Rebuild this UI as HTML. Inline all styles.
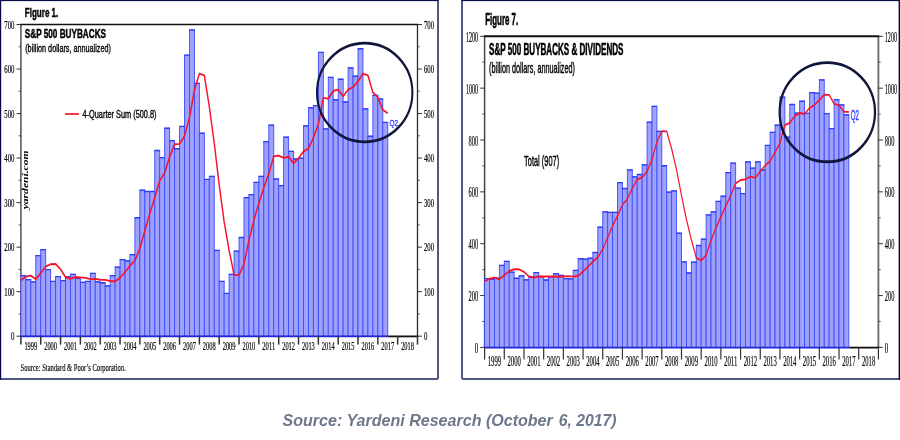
<!DOCTYPE html>
<html><head><meta charset="utf-8"><title>S&amp;P 500 Buybacks</title>
<style>html,body{margin:0;padding:0;background:#fff}svg{display:block}</style></head>
<body>
<svg width="900" height="440" viewBox="0 0 900 440">
<rect width="900" height="440" fill="#fff"/>
<path d="M438 0V377.5Q438 379 436.5 379H0" fill="none" stroke="#4f5783" stroke-width="2"/>
<rect x="0" y="0" width="438.8" height="1.1" fill="#070b48"/>
<rect x="0" y="0" width="1.2" height="379.9" fill="#070b48"/>
<path d="M462 0V377.5Q462 379 463.5 379H900" fill="none" stroke="#4f5783" stroke-width="2"/>
<rect x="461.2" y="0" width="438.8" height="1.1" fill="#070b48"/>
<rect x="898.6" y="0" width="1.4" height="379.9" fill="#070b48"/>
<path d="M20.90 336.20V24.50" fill="none" stroke="#5a5a5a" stroke-width="1.6"/>
<path d="M417.50 24.50V336.20" fill="none" stroke="#2a2a2a" stroke-width="1.3"/>
<path d="M20.10 24.50H418.15" fill="none" stroke="#111" stroke-width="1.4"/>
<rect x="20.90" y="275.64" width="4.96" height="60.56" fill="#9fa1fb" stroke="#3d4dfb" stroke-width="0.9"/>
<rect x="25.86" y="279.65" width="4.96" height="56.55" fill="#9fa1fb" stroke="#3d4dfb" stroke-width="0.9"/>
<rect x="30.81" y="281.88" width="4.96" height="54.32" fill="#9fa1fb" stroke="#3d4dfb" stroke-width="0.9"/>
<rect x="35.77" y="255.60" width="4.96" height="80.60" fill="#9fa1fb" stroke="#3d4dfb" stroke-width="0.9"/>
<rect x="40.73" y="249.59" width="4.96" height="86.61" fill="#9fa1fb" stroke="#3d4dfb" stroke-width="0.9"/>
<rect x="45.69" y="269.63" width="4.96" height="66.57" fill="#9fa1fb" stroke="#3d4dfb" stroke-width="0.9"/>
<rect x="50.65" y="281.43" width="4.96" height="54.77" fill="#9fa1fb" stroke="#3d4dfb" stroke-width="0.9"/>
<rect x="55.60" y="276.53" width="4.96" height="59.67" fill="#9fa1fb" stroke="#3d4dfb" stroke-width="0.9"/>
<rect x="60.56" y="280.54" width="4.96" height="55.66" fill="#9fa1fb" stroke="#3d4dfb" stroke-width="0.9"/>
<rect x="65.52" y="276.53" width="4.96" height="59.67" fill="#9fa1fb" stroke="#3d4dfb" stroke-width="0.9"/>
<rect x="70.47" y="274.31" width="4.96" height="61.89" fill="#9fa1fb" stroke="#3d4dfb" stroke-width="0.9"/>
<rect x="75.43" y="278.31" width="4.96" height="57.89" fill="#9fa1fb" stroke="#3d4dfb" stroke-width="0.9"/>
<rect x="80.39" y="282.32" width="4.96" height="53.88" fill="#9fa1fb" stroke="#3d4dfb" stroke-width="0.9"/>
<rect x="85.35" y="281.43" width="4.96" height="54.77" fill="#9fa1fb" stroke="#3d4dfb" stroke-width="0.9"/>
<rect x="90.31" y="273.41" width="4.96" height="62.79" fill="#9fa1fb" stroke="#3d4dfb" stroke-width="0.9"/>
<rect x="95.26" y="281.88" width="4.96" height="54.32" fill="#9fa1fb" stroke="#3d4dfb" stroke-width="0.9"/>
<rect x="100.22" y="282.77" width="4.96" height="53.43" fill="#9fa1fb" stroke="#3d4dfb" stroke-width="0.9"/>
<rect x="105.18" y="285.88" width="4.96" height="50.32" fill="#9fa1fb" stroke="#3d4dfb" stroke-width="0.9"/>
<rect x="110.14" y="275.64" width="4.96" height="60.56" fill="#9fa1fb" stroke="#3d4dfb" stroke-width="0.9"/>
<rect x="115.09" y="267.18" width="4.96" height="69.02" fill="#9fa1fb" stroke="#3d4dfb" stroke-width="0.9"/>
<rect x="120.05" y="259.61" width="4.96" height="76.59" fill="#9fa1fb" stroke="#3d4dfb" stroke-width="0.9"/>
<rect x="125.01" y="260.95" width="4.96" height="75.25" fill="#9fa1fb" stroke="#3d4dfb" stroke-width="0.9"/>
<rect x="129.97" y="254.71" width="4.96" height="81.49" fill="#9fa1fb" stroke="#3d4dfb" stroke-width="0.9"/>
<rect x="134.92" y="217.75" width="4.96" height="118.45" fill="#9fa1fb" stroke="#3d4dfb" stroke-width="0.9"/>
<rect x="139.88" y="190.15" width="4.96" height="146.05" fill="#9fa1fb" stroke="#3d4dfb" stroke-width="0.9"/>
<rect x="144.84" y="191.48" width="4.96" height="144.72" fill="#9fa1fb" stroke="#3d4dfb" stroke-width="0.9"/>
<rect x="149.80" y="191.48" width="4.96" height="144.72" fill="#9fa1fb" stroke="#3d4dfb" stroke-width="0.9"/>
<rect x="154.75" y="150.52" width="4.96" height="185.68" fill="#9fa1fb" stroke="#3d4dfb" stroke-width="0.9"/>
<rect x="159.71" y="157.64" width="4.96" height="178.56" fill="#9fa1fb" stroke="#3d4dfb" stroke-width="0.9"/>
<rect x="164.67" y="128.25" width="4.96" height="207.95" fill="#9fa1fb" stroke="#3d4dfb" stroke-width="0.9"/>
<rect x="169.63" y="140.72" width="4.96" height="195.48" fill="#9fa1fb" stroke="#3d4dfb" stroke-width="0.9"/>
<rect x="174.58" y="148.73" width="4.96" height="187.47" fill="#9fa1fb" stroke="#3d4dfb" stroke-width="0.9"/>
<rect x="179.54" y="126.47" width="4.96" height="209.73" fill="#9fa1fb" stroke="#3d4dfb" stroke-width="0.9"/>
<rect x="184.50" y="55.22" width="4.96" height="280.98" fill="#9fa1fb" stroke="#3d4dfb" stroke-width="0.9"/>
<rect x="189.46" y="29.84" width="4.96" height="306.36" fill="#9fa1fb" stroke="#3d4dfb" stroke-width="0.9"/>
<rect x="194.41" y="83.28" width="4.96" height="252.92" fill="#9fa1fb" stroke="#3d4dfb" stroke-width="0.9"/>
<rect x="199.37" y="133.15" width="4.96" height="203.05" fill="#9fa1fb" stroke="#3d4dfb" stroke-width="0.9"/>
<rect x="204.33" y="179.46" width="4.96" height="156.74" fill="#9fa1fb" stroke="#3d4dfb" stroke-width="0.9"/>
<rect x="209.29" y="176.34" width="4.96" height="159.86" fill="#9fa1fb" stroke="#3d4dfb" stroke-width="0.9"/>
<rect x="214.24" y="250.35" width="4.96" height="85.85" fill="#9fa1fb" stroke="#3d4dfb" stroke-width="0.9"/>
<rect x="219.20" y="281.43" width="4.96" height="54.77" fill="#9fa1fb" stroke="#3d4dfb" stroke-width="0.9"/>
<rect x="224.16" y="293.45" width="4.96" height="42.75" fill="#9fa1fb" stroke="#3d4dfb" stroke-width="0.9"/>
<rect x="229.12" y="274.31" width="4.96" height="61.89" fill="#9fa1fb" stroke="#3d4dfb" stroke-width="0.9"/>
<rect x="234.07" y="251.15" width="4.96" height="85.05" fill="#9fa1fb" stroke="#3d4dfb" stroke-width="0.9"/>
<rect x="239.03" y="237.52" width="4.96" height="98.68" fill="#9fa1fb" stroke="#3d4dfb" stroke-width="0.9"/>
<rect x="243.99" y="197.72" width="4.96" height="138.48" fill="#9fa1fb" stroke="#3d4dfb" stroke-width="0.9"/>
<rect x="248.95" y="194.60" width="4.96" height="141.60" fill="#9fa1fb" stroke="#3d4dfb" stroke-width="0.9"/>
<rect x="253.90" y="182.31" width="4.96" height="153.89" fill="#9fa1fb" stroke="#3d4dfb" stroke-width="0.9"/>
<rect x="258.86" y="176.34" width="4.96" height="159.86" fill="#9fa1fb" stroke="#3d4dfb" stroke-width="0.9"/>
<rect x="263.82" y="141.61" width="4.96" height="194.59" fill="#9fa1fb" stroke="#3d4dfb" stroke-width="0.9"/>
<rect x="268.78" y="125.13" width="4.96" height="211.07" fill="#9fa1fb" stroke="#3d4dfb" stroke-width="0.9"/>
<rect x="273.73" y="179.01" width="4.96" height="157.19" fill="#9fa1fb" stroke="#3d4dfb" stroke-width="0.9"/>
<rect x="278.69" y="185.69" width="4.96" height="150.51" fill="#9fa1fb" stroke="#3d4dfb" stroke-width="0.9"/>
<rect x="283.65" y="137.16" width="4.96" height="199.04" fill="#9fa1fb" stroke="#3d4dfb" stroke-width="0.9"/>
<rect x="288.61" y="151.41" width="4.96" height="184.79" fill="#9fa1fb" stroke="#3d4dfb" stroke-width="0.9"/>
<rect x="293.56" y="158.98" width="4.96" height="177.22" fill="#9fa1fb" stroke="#3d4dfb" stroke-width="0.9"/>
<rect x="298.52" y="158.09" width="4.96" height="178.11" fill="#9fa1fb" stroke="#3d4dfb" stroke-width="0.9"/>
<rect x="303.48" y="125.80" width="4.96" height="210.40" fill="#9fa1fb" stroke="#3d4dfb" stroke-width="0.9"/>
<rect x="308.44" y="107.77" width="4.96" height="228.43" fill="#9fa1fb" stroke="#3d4dfb" stroke-width="0.9"/>
<rect x="313.39" y="105.54" width="4.96" height="230.66" fill="#9fa1fb" stroke="#3d4dfb" stroke-width="0.9"/>
<rect x="318.35" y="52.37" width="4.96" height="283.83" fill="#9fa1fb" stroke="#3d4dfb" stroke-width="0.9"/>
<rect x="323.31" y="128.92" width="4.96" height="207.28" fill="#9fa1fb" stroke="#3d4dfb" stroke-width="0.9"/>
<rect x="328.26" y="77.31" width="4.96" height="258.89" fill="#9fa1fb" stroke="#3d4dfb" stroke-width="0.9"/>
<rect x="333.22" y="99.75" width="4.96" height="236.45" fill="#9fa1fb" stroke="#3d4dfb" stroke-width="0.9"/>
<rect x="338.18" y="79.27" width="4.96" height="256.93" fill="#9fa1fb" stroke="#3d4dfb" stroke-width="0.9"/>
<rect x="343.14" y="101.98" width="4.96" height="234.22" fill="#9fa1fb" stroke="#3d4dfb" stroke-width="0.9"/>
<rect x="348.10" y="67.87" width="4.96" height="268.33" fill="#9fa1fb" stroke="#3d4dfb" stroke-width="0.9"/>
<rect x="353.05" y="76.15" width="4.96" height="260.05" fill="#9fa1fb" stroke="#3d4dfb" stroke-width="0.9"/>
<rect x="358.01" y="48.77" width="4.96" height="287.43" fill="#9fa1fb" stroke="#3d4dfb" stroke-width="0.9"/>
<rect x="362.97" y="108.88" width="4.96" height="227.32" fill="#9fa1fb" stroke="#3d4dfb" stroke-width="0.9"/>
<rect x="367.93" y="136.27" width="4.96" height="199.93" fill="#9fa1fb" stroke="#3d4dfb" stroke-width="0.9"/>
<rect x="372.88" y="95.30" width="4.96" height="240.90" fill="#9fa1fb" stroke="#3d4dfb" stroke-width="0.9"/>
<rect x="377.84" y="98.86" width="4.96" height="237.34" fill="#9fa1fb" stroke="#3d4dfb" stroke-width="0.9"/>
<rect x="382.80" y="122.46" width="4.96" height="213.74" fill="#9fa1fb" stroke="#3d4dfb" stroke-width="0.9"/>
<path d="M20.60 275.64H26.16M25.56 279.65H31.11M30.51 281.88H36.07M35.47 255.60H41.03M40.43 249.59H45.99M45.39 269.63H50.95M50.35 281.43H55.90M55.30 276.53H60.86M60.26 280.54H65.82M65.22 276.53H70.78M70.17 274.31H75.73M75.13 278.31H80.69M80.09 282.32H85.65M85.05 281.43H90.60M90.01 273.41H95.56M94.96 281.88H100.52M99.92 282.77H105.48M104.88 285.88H110.44M109.84 275.64H115.39M114.79 267.18H120.35M119.75 259.61H125.31M124.71 260.95H130.27M129.66 254.71H135.22M134.62 217.75H140.18M139.58 190.15H145.14M144.54 191.48H150.10M149.50 191.48H155.05M154.45 150.52H160.01M159.41 157.64H164.97M164.37 128.25H169.93M169.33 140.72H174.88M174.28 148.73H179.84M179.24 126.47H184.80M184.20 55.22H189.76M189.16 29.84H194.71M194.11 83.28H199.67M199.07 133.15H204.63M204.03 179.46H209.59M208.99 176.34H214.54M213.94 250.35H219.50M218.90 281.43H224.46M223.86 293.45H229.42M228.82 274.31H234.37M233.77 251.15H239.33M238.73 237.52H244.29M243.69 197.72H249.25M248.65 194.60H254.20M253.60 182.31H259.16M258.56 176.34H264.12M263.52 141.61H269.07M268.48 125.13H274.03M273.43 179.01H278.99M278.39 185.69H283.95M283.35 137.16H288.90M288.31 151.41H293.86M293.26 158.98H298.82M298.22 158.09H303.78M303.18 125.80H308.74M308.13 107.77H313.69M313.09 105.54H318.65M318.05 52.37H323.61M323.01 128.92H328.56M327.96 77.31H333.52M332.92 99.75H338.48M337.88 79.27H343.44M342.84 101.98H348.39M347.80 67.87H353.35M352.75 76.15H358.31M357.71 48.77H363.27M362.67 108.88H368.23M367.62 136.27H373.18M372.58 95.30H378.14M377.54 98.86H383.10M382.50 122.46H388.06" stroke="#2f3ff6" stroke-width="1.3" fill="none"/>
<path d="M20.40 336.40H388.15" stroke="#1f28d8" stroke-width="1.8"/>
<path d="M388.15 336.40H418.20" stroke="#111" stroke-width="1.8"/>
<g transform="translate(20.90,0) scale(0.78,1)"><path d="M0.00 280.32 L6.36 276.62 L12.71 275.64 L19.07 279.20 L25.42 273.19 L31.78 266.68 L38.13 264.18 L44.49 264.06 L50.85 269.30 L57.20 277.03 L63.56 278.76 L69.91 276.98 L76.27 277.42 L82.62 277.87 L88.98 279.09 L95.34 278.87 L101.69 279.76 L108.05 279.87 L114.40 280.98 L120.76 281.54 L127.12 277.87 L133.47 272.08 L139.83 265.84 L146.18 260.61 L152.54 248.26 L158.89 230.89 L165.25 213.52 L171.61 197.72 L177.96 180.91 L184.32 172.78 L190.67 156.97 L197.03 144.28 L203.38 143.84 L209.74 136.04 L216.10 117.79 L222.45 90.07 L228.81 73.70 L235.16 75.37 L241.52 106.43 L247.88 143.06 L254.23 184.83 L260.59 221.90 L266.94 250.39 L273.30 274.88 L279.65 275.08 L286.01 264.11 L292.37 240.17 L298.72 220.25 L305.08 203.04 L311.43 187.74 L317.79 173.72 L324.14 156.35 L330.50 155.53 L336.86 157.86 L343.21 156.75 L349.57 163.32 L355.92 158.31 L362.28 151.41 L368.63 148.57 L374.99 137.66 L381.35 124.30 L387.70 97.87 L394.06 98.65 L400.41 91.04 L406.77 89.59 L413.12 96.31 L419.48 89.58 L425.84 87.22 L432.19 81.32 L438.55 73.69 L444.90 75.42 L451.26 92.52 L457.62 97.30 L463.97 109.83 L470.33 113.22" fill="none" stroke="#f5142c" stroke-width="1.9" stroke-linejoin="round"/></g>
<path d="M16.50 336.20H20.90M417.50 336.20H421.90" stroke="#333" stroke-width="1"/>
<path d="M18.60 313.94H20.90M417.50 313.94H419.80" stroke="#444" stroke-width="0.9"/>
<path d="M16.50 291.67H20.90M417.50 291.67H421.90" stroke="#333" stroke-width="1"/>
<path d="M18.60 269.41H20.90M417.50 269.41H419.80" stroke="#444" stroke-width="0.9"/>
<path d="M16.50 247.14H20.90M417.50 247.14H421.90" stroke="#333" stroke-width="1"/>
<path d="M18.60 224.88H20.90M417.50 224.88H419.80" stroke="#444" stroke-width="0.9"/>
<path d="M16.50 202.61H20.90M417.50 202.61H421.90" stroke="#333" stroke-width="1"/>
<path d="M18.60 180.35H20.90M417.50 180.35H419.80" stroke="#444" stroke-width="0.9"/>
<path d="M16.50 158.09H20.90M417.50 158.09H421.90" stroke="#333" stroke-width="1"/>
<path d="M18.60 135.82H20.90M417.50 135.82H419.80" stroke="#444" stroke-width="0.9"/>
<path d="M16.50 113.56H20.90M417.50 113.56H421.90" stroke="#333" stroke-width="1"/>
<path d="M18.60 91.29H20.90M417.50 91.29H419.80" stroke="#444" stroke-width="0.9"/>
<path d="M16.50 69.03H20.90M417.50 69.03H421.90" stroke="#333" stroke-width="1"/>
<path d="M18.60 46.76H20.90M417.50 46.76H419.80" stroke="#444" stroke-width="0.9"/>
<path d="M16.50 24.50H20.90M417.50 24.50H421.90" stroke="#333" stroke-width="1"/>
<path d="M20.90 336.20V344.60" stroke="#333" stroke-width="1.5"/>
<path d="M40.73 336.20V344.60" stroke="#333" stroke-width="1.5"/>
<path d="M60.56 336.20V344.60" stroke="#333" stroke-width="1.5"/>
<path d="M80.39 336.20V344.60" stroke="#333" stroke-width="1.5"/>
<path d="M100.22 336.20V344.60" stroke="#333" stroke-width="1.5"/>
<path d="M120.05 336.20V344.60" stroke="#333" stroke-width="1.5"/>
<path d="M139.88 336.20V344.60" stroke="#333" stroke-width="1.5"/>
<path d="M159.71 336.20V344.60" stroke="#333" stroke-width="1.5"/>
<path d="M179.54 336.20V344.60" stroke="#333" stroke-width="1.5"/>
<path d="M199.37 336.20V344.60" stroke="#333" stroke-width="1.5"/>
<path d="M219.20 336.20V344.60" stroke="#333" stroke-width="1.5"/>
<path d="M239.03 336.20V344.60" stroke="#333" stroke-width="1.5"/>
<path d="M258.86 336.20V344.60" stroke="#333" stroke-width="1.5"/>
<path d="M278.69 336.20V344.60" stroke="#333" stroke-width="1.5"/>
<path d="M298.52 336.20V344.60" stroke="#333" stroke-width="1.5"/>
<path d="M318.35 336.20V344.60" stroke="#333" stroke-width="1.5"/>
<path d="M338.18 336.20V344.60" stroke="#333" stroke-width="1.5"/>
<path d="M358.01 336.20V344.60" stroke="#333" stroke-width="1.5"/>
<path d="M377.84 336.20V344.60" stroke="#333" stroke-width="1.5"/>
<path d="M397.67 336.20V344.60" stroke="#333" stroke-width="1.5"/>
<path d="M417.50 336.20V344.60" stroke="#333" stroke-width="1.5"/>
<text x="11.00" y="340.20" font-family='"Liberation Serif", "Times New Roman", Times, serif' font-size="11.7" font-weight="normal" font-style="normal" fill="#000" stroke="#000" stroke-width="0.2" textLength="3.40" lengthAdjust="spacingAndGlyphs" >0</text>
<text x="423.90" y="340.20" font-family='"Liberation Serif", "Times New Roman", Times, serif' font-size="11.7" font-weight="normal" font-style="normal" fill="#000" stroke="#000" stroke-width="0.2" textLength="3.40" lengthAdjust="spacingAndGlyphs" >0</text>
<text x="4.30" y="295.67" font-family='"Liberation Serif", "Times New Roman", Times, serif' font-size="11.7" font-weight="normal" font-style="normal" fill="#000" stroke="#000" stroke-width="0.2" textLength="10.10" lengthAdjust="spacingAndGlyphs" >100</text>
<text x="423.90" y="295.67" font-family='"Liberation Serif", "Times New Roman", Times, serif' font-size="11.7" font-weight="normal" font-style="normal" fill="#000" stroke="#000" stroke-width="0.2" textLength="10.10" lengthAdjust="spacingAndGlyphs" >100</text>
<text x="4.30" y="251.14" font-family='"Liberation Serif", "Times New Roman", Times, serif' font-size="11.7" font-weight="normal" font-style="normal" fill="#000" stroke="#000" stroke-width="0.2" textLength="10.10" lengthAdjust="spacingAndGlyphs" >200</text>
<text x="423.90" y="251.14" font-family='"Liberation Serif", "Times New Roman", Times, serif' font-size="11.7" font-weight="normal" font-style="normal" fill="#000" stroke="#000" stroke-width="0.2" textLength="10.10" lengthAdjust="spacingAndGlyphs" >200</text>
<text x="4.30" y="206.61" font-family='"Liberation Serif", "Times New Roman", Times, serif' font-size="11.7" font-weight="normal" font-style="normal" fill="#000" stroke="#000" stroke-width="0.2" textLength="10.10" lengthAdjust="spacingAndGlyphs" >300</text>
<text x="423.90" y="206.61" font-family='"Liberation Serif", "Times New Roman", Times, serif' font-size="11.7" font-weight="normal" font-style="normal" fill="#000" stroke="#000" stroke-width="0.2" textLength="10.10" lengthAdjust="spacingAndGlyphs" >300</text>
<text x="4.30" y="162.09" font-family='"Liberation Serif", "Times New Roman", Times, serif' font-size="11.7" font-weight="normal" font-style="normal" fill="#000" stroke="#000" stroke-width="0.2" textLength="10.10" lengthAdjust="spacingAndGlyphs" >400</text>
<text x="423.90" y="162.09" font-family='"Liberation Serif", "Times New Roman", Times, serif' font-size="11.7" font-weight="normal" font-style="normal" fill="#000" stroke="#000" stroke-width="0.2" textLength="10.10" lengthAdjust="spacingAndGlyphs" >400</text>
<text x="4.30" y="117.56" font-family='"Liberation Serif", "Times New Roman", Times, serif' font-size="11.7" font-weight="normal" font-style="normal" fill="#000" stroke="#000" stroke-width="0.2" textLength="10.10" lengthAdjust="spacingAndGlyphs" >500</text>
<text x="423.90" y="117.56" font-family='"Liberation Serif", "Times New Roman", Times, serif' font-size="11.7" font-weight="normal" font-style="normal" fill="#000" stroke="#000" stroke-width="0.2" textLength="10.10" lengthAdjust="spacingAndGlyphs" >500</text>
<text x="4.30" y="73.03" font-family='"Liberation Serif", "Times New Roman", Times, serif' font-size="11.7" font-weight="normal" font-style="normal" fill="#000" stroke="#000" stroke-width="0.2" textLength="10.10" lengthAdjust="spacingAndGlyphs" >600</text>
<text x="423.90" y="73.03" font-family='"Liberation Serif", "Times New Roman", Times, serif' font-size="11.7" font-weight="normal" font-style="normal" fill="#000" stroke="#000" stroke-width="0.2" textLength="10.10" lengthAdjust="spacingAndGlyphs" >600</text>
<text x="4.30" y="28.50" font-family='"Liberation Serif", "Times New Roman", Times, serif' font-size="11.7" font-weight="normal" font-style="normal" fill="#000" stroke="#000" stroke-width="0.2" textLength="10.10" lengthAdjust="spacingAndGlyphs" >700</text>
<text x="423.90" y="28.50" font-family='"Liberation Serif", "Times New Roman", Times, serif' font-size="11.7" font-weight="normal" font-style="normal" fill="#000" stroke="#000" stroke-width="0.2" textLength="10.10" lengthAdjust="spacingAndGlyphs" >700</text>
<text x="24.40" y="349.60" font-family='"Liberation Serif", "Times New Roman", Times, serif' font-size="11.8" font-weight="normal" font-style="normal" fill="#000" stroke="#000" stroke-width="0.2" textLength="12.80" lengthAdjust="spacingAndGlyphs" >1999</text>
<text x="44.23" y="349.60" font-family='"Liberation Serif", "Times New Roman", Times, serif' font-size="11.8" font-weight="normal" font-style="normal" fill="#000" stroke="#000" stroke-width="0.2" textLength="12.80" lengthAdjust="spacingAndGlyphs" >2000</text>
<text x="64.06" y="349.60" font-family='"Liberation Serif", "Times New Roman", Times, serif' font-size="11.8" font-weight="normal" font-style="normal" fill="#000" stroke="#000" stroke-width="0.2" textLength="12.80" lengthAdjust="spacingAndGlyphs" >2001</text>
<text x="83.89" y="349.60" font-family='"Liberation Serif", "Times New Roman", Times, serif' font-size="11.8" font-weight="normal" font-style="normal" fill="#000" stroke="#000" stroke-width="0.2" textLength="12.80" lengthAdjust="spacingAndGlyphs" >2002</text>
<text x="103.72" y="349.60" font-family='"Liberation Serif", "Times New Roman", Times, serif' font-size="11.8" font-weight="normal" font-style="normal" fill="#000" stroke="#000" stroke-width="0.2" textLength="12.80" lengthAdjust="spacingAndGlyphs" >2003</text>
<text x="123.55" y="349.60" font-family='"Liberation Serif", "Times New Roman", Times, serif' font-size="11.8" font-weight="normal" font-style="normal" fill="#000" stroke="#000" stroke-width="0.2" textLength="12.80" lengthAdjust="spacingAndGlyphs" >2004</text>
<text x="143.38" y="349.60" font-family='"Liberation Serif", "Times New Roman", Times, serif' font-size="11.8" font-weight="normal" font-style="normal" fill="#000" stroke="#000" stroke-width="0.2" textLength="12.80" lengthAdjust="spacingAndGlyphs" >2005</text>
<text x="163.21" y="349.60" font-family='"Liberation Serif", "Times New Roman", Times, serif' font-size="11.8" font-weight="normal" font-style="normal" fill="#000" stroke="#000" stroke-width="0.2" textLength="12.80" lengthAdjust="spacingAndGlyphs" >2006</text>
<text x="183.04" y="349.60" font-family='"Liberation Serif", "Times New Roman", Times, serif' font-size="11.8" font-weight="normal" font-style="normal" fill="#000" stroke="#000" stroke-width="0.2" textLength="12.80" lengthAdjust="spacingAndGlyphs" >2007</text>
<text x="202.87" y="349.60" font-family='"Liberation Serif", "Times New Roman", Times, serif' font-size="11.8" font-weight="normal" font-style="normal" fill="#000" stroke="#000" stroke-width="0.2" textLength="12.80" lengthAdjust="spacingAndGlyphs" >2008</text>
<text x="222.70" y="349.60" font-family='"Liberation Serif", "Times New Roman", Times, serif' font-size="11.8" font-weight="normal" font-style="normal" fill="#000" stroke="#000" stroke-width="0.2" textLength="12.80" lengthAdjust="spacingAndGlyphs" >2009</text>
<text x="242.53" y="349.60" font-family='"Liberation Serif", "Times New Roman", Times, serif' font-size="11.8" font-weight="normal" font-style="normal" fill="#000" stroke="#000" stroke-width="0.2" textLength="12.80" lengthAdjust="spacingAndGlyphs" >2010</text>
<text x="262.36" y="349.60" font-family='"Liberation Serif", "Times New Roman", Times, serif' font-size="11.8" font-weight="normal" font-style="normal" fill="#000" stroke="#000" stroke-width="0.2" textLength="12.80" lengthAdjust="spacingAndGlyphs" >2011</text>
<text x="282.19" y="349.60" font-family='"Liberation Serif", "Times New Roman", Times, serif' font-size="11.8" font-weight="normal" font-style="normal" fill="#000" stroke="#000" stroke-width="0.2" textLength="12.80" lengthAdjust="spacingAndGlyphs" >2012</text>
<text x="302.02" y="349.60" font-family='"Liberation Serif", "Times New Roman", Times, serif' font-size="11.8" font-weight="normal" font-style="normal" fill="#000" stroke="#000" stroke-width="0.2" textLength="12.80" lengthAdjust="spacingAndGlyphs" >2013</text>
<text x="321.85" y="349.60" font-family='"Liberation Serif", "Times New Roman", Times, serif' font-size="11.8" font-weight="normal" font-style="normal" fill="#000" stroke="#000" stroke-width="0.2" textLength="12.80" lengthAdjust="spacingAndGlyphs" >2014</text>
<text x="341.68" y="349.60" font-family='"Liberation Serif", "Times New Roman", Times, serif' font-size="11.8" font-weight="normal" font-style="normal" fill="#000" stroke="#000" stroke-width="0.2" textLength="12.80" lengthAdjust="spacingAndGlyphs" >2015</text>
<text x="361.51" y="349.60" font-family='"Liberation Serif", "Times New Roman", Times, serif' font-size="11.8" font-weight="normal" font-style="normal" fill="#000" stroke="#000" stroke-width="0.2" textLength="12.80" lengthAdjust="spacingAndGlyphs" >2016</text>
<text x="381.34" y="349.60" font-family='"Liberation Serif", "Times New Roman", Times, serif' font-size="11.8" font-weight="normal" font-style="normal" fill="#000" stroke="#000" stroke-width="0.2" textLength="12.80" lengthAdjust="spacingAndGlyphs" >2017</text>
<text x="401.17" y="349.60" font-family='"Liberation Serif", "Times New Roman", Times, serif' font-size="11.8" font-weight="normal" font-style="normal" fill="#000" stroke="#000" stroke-width="0.2" textLength="12.80" lengthAdjust="spacingAndGlyphs" >2018</text>
<text x="24.80" y="17.40" font-family='"Liberation Sans", Arial, Helvetica, sans-serif' font-size="12.2" font-weight="bold" font-style="normal" fill="#000" stroke="#000" stroke-width="0.45" textLength="33.50" lengthAdjust="spacingAndGlyphs" >Figure 1.</text>
<text x="24.80" y="38.20" font-family='"Liberation Sans", Arial, Helvetica, sans-serif' font-size="12" font-weight="bold" font-style="normal" fill="#000" stroke="#000" stroke-width="0.45" textLength="81.20" lengthAdjust="spacingAndGlyphs" >S&amp;P 500 BUYBACKS</text>
<text x="25.20" y="51.50" font-family='"Liberation Sans", Arial, Helvetica, sans-serif' font-size="10.6" font-weight="normal" font-style="normal" fill="#000" stroke="#000" stroke-width="0.35" textLength="85.70" lengthAdjust="spacingAndGlyphs" >(billion dollars, annualized)</text>
<path d="M65 114H79" stroke="#f5142c" stroke-width="1.7"/>
<text x="82.50" y="117.70" font-family='"Liberation Sans", Arial, Helvetica, sans-serif' font-size="10.6" font-weight="normal" font-style="normal" fill="#000" stroke="#000" stroke-width="0.35" textLength="74.00" lengthAdjust="spacingAndGlyphs" >4-Quarter Sum (500.8)</text>
<text x="20.50" y="370.60" font-family='"Liberation Serif", "Times New Roman", Times, serif' font-size="10" font-weight="normal" font-style="normal" fill="#000" stroke="#000" stroke-width="0.15" textLength="105.30" lengthAdjust="spacingAndGlyphs" >Source: Standard &amp; Poor’s Corporation.</text>
<text x="389.60" y="126.00" font-family='"Liberation Sans", Arial, Helvetica, sans-serif' font-size="9.8" font-weight="normal" font-style="normal" fill="#2a3cff" stroke="#2a3cff" stroke-width="0.3" textLength="8.50" lengthAdjust="spacingAndGlyphs" >Q2</text>
<text transform="translate(28,209.3) rotate(-90)" font-family='"Liberation Serif", "Times New Roman", Times, serif' font-size="7.5" font-weight="bold" font-style="italic" fill="#000" textLength="58.8" lengthAdjust="spacingAndGlyphs">yardeni.com</text>
<g transform="translate(364.7,92.45) scale(0.74,1)"><ellipse cx="0" cy="0" rx="64.46" ry="49.35" fill="none" stroke="#10163a" stroke-width="2.8"/></g>
<path d="M484.60 347.40V36.30" fill="none" stroke="#444" stroke-width="1.5"/>
<path d="M878.40 36.30V347.40" fill="none" stroke="#666" stroke-width="1.8"/>
<path d="M483.85 36.30H879.30" fill="none" stroke="#111" stroke-width="2"/>
<rect x="484.60" y="278.57" width="4.92" height="68.83" fill="#9fa1fb" stroke="#3d4dfb" stroke-width="0.9"/>
<rect x="489.52" y="279.22" width="4.92" height="68.18" fill="#9fa1fb" stroke="#3d4dfb" stroke-width="0.9"/>
<rect x="494.45" y="278.18" width="4.92" height="69.22" fill="#9fa1fb" stroke="#3d4dfb" stroke-width="0.9"/>
<rect x="499.37" y="265.35" width="4.92" height="82.05" fill="#9fa1fb" stroke="#3d4dfb" stroke-width="0.9"/>
<rect x="504.29" y="261.33" width="4.92" height="86.07" fill="#9fa1fb" stroke="#3d4dfb" stroke-width="0.9"/>
<rect x="509.21" y="272.22" width="4.92" height="75.18" fill="#9fa1fb" stroke="#3d4dfb" stroke-width="0.9"/>
<rect x="514.13" y="278.26" width="4.92" height="69.14" fill="#9fa1fb" stroke="#3d4dfb" stroke-width="0.9"/>
<rect x="519.06" y="275.85" width="4.92" height="71.55" fill="#9fa1fb" stroke="#3d4dfb" stroke-width="0.9"/>
<rect x="523.98" y="279.87" width="4.92" height="67.53" fill="#9fa1fb" stroke="#3d4dfb" stroke-width="0.9"/>
<rect x="528.90" y="276.75" width="4.92" height="70.65" fill="#9fa1fb" stroke="#3d4dfb" stroke-width="0.9"/>
<rect x="533.83" y="272.58" width="4.92" height="74.82" fill="#9fa1fb" stroke="#3d4dfb" stroke-width="0.9"/>
<rect x="538.75" y="276.75" width="4.92" height="70.65" fill="#9fa1fb" stroke="#3d4dfb" stroke-width="0.9"/>
<rect x="543.67" y="280.00" width="4.92" height="67.40" fill="#9fa1fb" stroke="#3d4dfb" stroke-width="0.9"/>
<rect x="548.59" y="276.75" width="4.92" height="70.65" fill="#9fa1fb" stroke="#3d4dfb" stroke-width="0.9"/>
<rect x="553.51" y="273.70" width="4.92" height="73.70" fill="#9fa1fb" stroke="#3d4dfb" stroke-width="0.9"/>
<rect x="558.44" y="275.33" width="4.92" height="72.07" fill="#9fa1fb" stroke="#3d4dfb" stroke-width="0.9"/>
<rect x="563.36" y="278.57" width="4.92" height="68.83" fill="#9fa1fb" stroke="#3d4dfb" stroke-width="0.9"/>
<rect x="568.28" y="278.96" width="4.92" height="68.44" fill="#9fa1fb" stroke="#3d4dfb" stroke-width="0.9"/>
<rect x="573.21" y="270.40" width="4.92" height="77.00" fill="#9fa1fb" stroke="#3d4dfb" stroke-width="0.9"/>
<rect x="578.13" y="258.74" width="4.92" height="88.66" fill="#9fa1fb" stroke="#3d4dfb" stroke-width="0.9"/>
<rect x="583.05" y="259.13" width="4.92" height="88.27" fill="#9fa1fb" stroke="#3d4dfb" stroke-width="0.9"/>
<rect x="587.97" y="258.22" width="4.92" height="89.18" fill="#9fa1fb" stroke="#3d4dfb" stroke-width="0.9"/>
<rect x="592.89" y="252.51" width="4.92" height="94.89" fill="#9fa1fb" stroke="#3d4dfb" stroke-width="0.9"/>
<rect x="597.82" y="227.11" width="4.92" height="120.29" fill="#9fa1fb" stroke="#3d4dfb" stroke-width="0.9"/>
<rect x="602.74" y="211.81" width="4.92" height="135.59" fill="#9fa1fb" stroke="#3d4dfb" stroke-width="0.9"/>
<rect x="607.66" y="212.33" width="4.92" height="135.07" fill="#9fa1fb" stroke="#3d4dfb" stroke-width="0.9"/>
<rect x="612.59" y="212.33" width="4.92" height="135.07" fill="#9fa1fb" stroke="#3d4dfb" stroke-width="0.9"/>
<rect x="617.51" y="182.65" width="4.92" height="164.75" fill="#9fa1fb" stroke="#3d4dfb" stroke-width="0.9"/>
<rect x="622.43" y="188.48" width="4.92" height="158.92" fill="#9fa1fb" stroke="#3d4dfb" stroke-width="0.9"/>
<rect x="627.35" y="169.94" width="4.92" height="177.46" fill="#9fa1fb" stroke="#3d4dfb" stroke-width="0.9"/>
<rect x="632.27" y="176.81" width="4.92" height="170.59" fill="#9fa1fb" stroke="#3d4dfb" stroke-width="0.9"/>
<rect x="637.20" y="174.48" width="4.92" height="172.92" fill="#9fa1fb" stroke="#3d4dfb" stroke-width="0.9"/>
<rect x="642.12" y="164.89" width="4.92" height="182.51" fill="#9fa1fb" stroke="#3d4dfb" stroke-width="0.9"/>
<rect x="647.04" y="122.24" width="4.92" height="225.16" fill="#9fa1fb" stroke="#3d4dfb" stroke-width="0.9"/>
<rect x="651.97" y="106.30" width="4.92" height="241.10" fill="#9fa1fb" stroke="#3d4dfb" stroke-width="0.9"/>
<rect x="656.89" y="131.32" width="4.92" height="216.08" fill="#9fa1fb" stroke="#3d4dfb" stroke-width="0.9"/>
<rect x="661.81" y="165.77" width="4.92" height="181.63" fill="#9fa1fb" stroke="#3d4dfb" stroke-width="0.9"/>
<rect x="666.73" y="192.11" width="4.92" height="155.29" fill="#9fa1fb" stroke="#3d4dfb" stroke-width="0.9"/>
<rect x="671.65" y="190.81" width="4.92" height="156.59" fill="#9fa1fb" stroke="#3d4dfb" stroke-width="0.9"/>
<rect x="676.58" y="233.23" width="4.92" height="114.17" fill="#9fa1fb" stroke="#3d4dfb" stroke-width="0.9"/>
<rect x="681.50" y="261.85" width="4.92" height="85.55" fill="#9fa1fb" stroke="#3d4dfb" stroke-width="0.9"/>
<rect x="686.42" y="273.00" width="4.92" height="74.40" fill="#9fa1fb" stroke="#3d4dfb" stroke-width="0.9"/>
<rect x="691.35" y="262.11" width="4.92" height="85.29" fill="#9fa1fb" stroke="#3d4dfb" stroke-width="0.9"/>
<rect x="696.27" y="245.51" width="4.92" height="101.89" fill="#9fa1fb" stroke="#3d4dfb" stroke-width="0.9"/>
<rect x="701.19" y="239.11" width="4.92" height="108.29" fill="#9fa1fb" stroke="#3d4dfb" stroke-width="0.9"/>
<rect x="706.11" y="214.92" width="4.92" height="132.48" fill="#9fa1fb" stroke="#3d4dfb" stroke-width="0.9"/>
<rect x="711.03" y="211.81" width="4.92" height="135.59" fill="#9fa1fb" stroke="#3d4dfb" stroke-width="0.9"/>
<rect x="715.96" y="201.44" width="4.92" height="145.96" fill="#9fa1fb" stroke="#3d4dfb" stroke-width="0.9"/>
<rect x="720.88" y="196.26" width="4.92" height="151.14" fill="#9fa1fb" stroke="#3d4dfb" stroke-width="0.9"/>
<rect x="725.80" y="172.67" width="4.92" height="174.73" fill="#9fa1fb" stroke="#3d4dfb" stroke-width="0.9"/>
<rect x="730.73" y="163.20" width="4.92" height="184.20" fill="#9fa1fb" stroke="#3d4dfb" stroke-width="0.9"/>
<rect x="735.65" y="188.09" width="4.92" height="159.31" fill="#9fa1fb" stroke="#3d4dfb" stroke-width="0.9"/>
<rect x="740.57" y="193.54" width="4.92" height="153.86" fill="#9fa1fb" stroke="#3d4dfb" stroke-width="0.9"/>
<rect x="745.49" y="161.78" width="4.92" height="185.62" fill="#9fa1fb" stroke="#3d4dfb" stroke-width="0.9"/>
<rect x="750.41" y="168.13" width="4.92" height="179.27" fill="#9fa1fb" stroke="#3d4dfb" stroke-width="0.9"/>
<rect x="755.34" y="161.78" width="4.92" height="185.62" fill="#9fa1fb" stroke="#3d4dfb" stroke-width="0.9"/>
<rect x="760.26" y="169.94" width="4.92" height="177.46" fill="#9fa1fb" stroke="#3d4dfb" stroke-width="0.9"/>
<rect x="765.18" y="145.44" width="4.92" height="201.96" fill="#9fa1fb" stroke="#3d4dfb" stroke-width="0.9"/>
<rect x="770.11" y="132.35" width="4.92" height="215.05" fill="#9fa1fb" stroke="#3d4dfb" stroke-width="0.9"/>
<rect x="775.03" y="125.04" width="4.92" height="222.36" fill="#9fa1fb" stroke="#3d4dfb" stroke-width="0.9"/>
<rect x="779.95" y="97.22" width="4.92" height="250.18" fill="#9fa1fb" stroke="#3d4dfb" stroke-width="0.9"/>
<rect x="784.87" y="137.25" width="4.92" height="210.15" fill="#9fa1fb" stroke="#3d4dfb" stroke-width="0.9"/>
<rect x="789.79" y="104.48" width="4.92" height="242.92" fill="#9fa1fb" stroke="#3d4dfb" stroke-width="0.9"/>
<rect x="794.72" y="113.04" width="4.92" height="234.36" fill="#9fa1fb" stroke="#3d4dfb" stroke-width="0.9"/>
<rect x="799.64" y="101.24" width="4.92" height="246.16" fill="#9fa1fb" stroke="#3d4dfb" stroke-width="0.9"/>
<rect x="804.56" y="113.30" width="4.92" height="234.10" fill="#9fa1fb" stroke="#3d4dfb" stroke-width="0.9"/>
<rect x="809.49" y="92.66" width="4.92" height="254.74" fill="#9fa1fb" stroke="#3d4dfb" stroke-width="0.9"/>
<rect x="814.41" y="93.21" width="4.92" height="254.19" fill="#9fa1fb" stroke="#3d4dfb" stroke-width="0.9"/>
<rect x="819.33" y="79.96" width="4.92" height="267.44" fill="#9fa1fb" stroke="#3d4dfb" stroke-width="0.9"/>
<rect x="824.25" y="113.56" width="4.92" height="233.84" fill="#9fa1fb" stroke="#3d4dfb" stroke-width="0.9"/>
<rect x="829.17" y="128.64" width="4.92" height="218.76" fill="#9fa1fb" stroke="#3d4dfb" stroke-width="0.9"/>
<rect x="834.10" y="99.56" width="4.92" height="247.84" fill="#9fa1fb" stroke="#3d4dfb" stroke-width="0.9"/>
<rect x="839.02" y="104.85" width="4.92" height="242.55" fill="#9fa1fb" stroke="#3d4dfb" stroke-width="0.9"/>
<rect x="843.94" y="114.85" width="4.92" height="232.55" fill="#9fa1fb" stroke="#3d4dfb" stroke-width="0.9"/>
<path d="M484.30 278.57H489.82M489.22 279.22H494.75M494.15 278.18H499.67M499.07 265.35H504.59M503.99 261.33H509.51M508.91 272.22H514.43M513.84 278.26H519.36M518.76 275.85H524.28M523.68 279.87H529.20M528.60 276.75H534.12M533.53 272.58H539.05M538.45 276.75H543.97M543.37 280.00H548.89M548.29 276.75H553.81M553.22 273.70H558.74M558.14 275.33H563.66M563.06 278.57H568.58M567.98 278.96H573.50M572.91 270.40H578.43M577.83 258.74H583.35M582.75 259.13H588.27M587.67 258.22H593.19M592.60 252.51H598.12M597.52 227.11H603.04M602.44 211.81H607.96M607.36 212.33H612.88M612.29 212.33H617.81M617.21 182.65H622.73M622.13 188.48H627.65M627.05 169.94H632.57M631.98 176.81H637.50M636.90 174.48H642.42M641.82 164.89H647.34M646.74 122.24H652.26M651.67 106.30H657.19M656.59 131.32H662.11M661.51 165.77H667.03M666.43 192.11H671.96M671.36 190.81H676.88M676.28 233.23H681.80M681.20 261.85H686.72M686.12 273.00H691.64M691.05 262.11H696.57M695.97 245.51H701.49M700.89 239.11H706.41M705.81 214.92H711.33M710.74 211.81H716.26M715.66 201.44H721.18M720.58 196.26H726.10M725.50 172.67H731.02M730.43 163.20H735.95M735.35 188.09H740.87M740.27 193.54H745.79M745.19 161.78H750.72M750.12 168.13H755.64M755.04 161.78H760.56M759.96 169.94H765.48M764.88 145.44H770.40M769.81 132.35H775.33M774.73 125.04H780.25M779.65 97.22H785.17M784.57 137.25H790.09M789.50 104.48H795.02M794.42 113.04H799.94M799.34 101.24H804.86M804.26 113.30H809.78M809.19 92.66H814.71M814.11 93.21H819.63M819.03 79.96H824.55M823.95 113.56H829.48M828.88 128.64H834.40M833.80 99.56H839.32M838.72 104.85H844.24M843.64 114.85H849.16" stroke="#2f3ff6" stroke-width="1.3" fill="none"/>
<path d="M484.10 347.60H849.26" stroke="#1f28d8" stroke-width="1.8"/>
<path d="M849.26 347.60H879.10" stroke="#111" stroke-width="1.8"/>
<g transform="translate(484.60,0) scale(0.62,1)"><path d="M0.00 281.29 L7.94 278.70 L15.88 277.66 L23.82 279.22 L31.76 275.33 L39.70 271.02 L47.64 269.27 L55.58 269.29 L63.52 271.91 L71.46 276.55 L79.40 277.68 L87.33 276.26 L95.27 276.49 L103.21 276.52 L111.15 276.52 L119.09 276.80 L127.03 276.44 L134.97 276.09 L142.91 276.64 L150.85 275.81 L158.79 271.67 L166.73 266.81 L174.67 261.62 L182.61 257.15 L190.55 249.24 L198.49 237.41 L206.43 225.94 L214.37 215.90 L222.31 204.78 L230.25 198.95 L238.19 188.35 L246.12 179.47 L254.06 177.43 L262.00 171.53 L269.94 159.61 L277.88 141.98 L285.82 131.19 L293.76 131.41 L301.70 148.87 L309.64 170.00 L317.58 195.48 L325.52 219.50 L333.46 239.72 L341.40 257.54 L349.34 260.62 L357.28 254.93 L365.22 240.41 L373.16 227.84 L381.10 216.82 L389.04 206.11 L396.98 195.54 L404.92 183.39 L412.85 180.05 L420.79 179.37 L428.73 176.65 L436.67 177.88 L444.61 171.30 L452.55 165.41 L460.49 161.32 L468.43 152.38 L476.37 143.20 L484.31 125.02 L492.25 122.97 L500.19 116.00 L508.13 113.00 L516.07 114.00 L524.01 108.02 L531.95 105.06 L539.89 100.10 L547.83 94.78 L555.77 94.85 L563.71 103.84 L571.65 105.43 L579.58 111.65 L587.52 111.98" fill="none" stroke="#f5142c" stroke-width="1.9" stroke-linejoin="round"/></g>
<path d="M480.20 347.40H484.60M878.40 347.40H882.80" stroke="#333" stroke-width="1"/>
<path d="M482.30 321.47H484.60M878.40 321.47H880.70" stroke="#444" stroke-width="0.9"/>
<path d="M480.20 295.55H484.60M878.40 295.55H882.80" stroke="#333" stroke-width="1"/>
<path d="M482.30 269.62H484.60M878.40 269.62H880.70" stroke="#444" stroke-width="0.9"/>
<path d="M480.20 243.70H484.60M878.40 243.70H882.80" stroke="#333" stroke-width="1"/>
<path d="M482.30 217.77H484.60M878.40 217.77H880.70" stroke="#444" stroke-width="0.9"/>
<path d="M480.20 191.85H484.60M878.40 191.85H882.80" stroke="#333" stroke-width="1"/>
<path d="M482.30 165.92H484.60M878.40 165.92H880.70" stroke="#444" stroke-width="0.9"/>
<path d="M480.20 140.00H484.60M878.40 140.00H882.80" stroke="#333" stroke-width="1"/>
<path d="M482.30 114.07H484.60M878.40 114.07H880.70" stroke="#444" stroke-width="0.9"/>
<path d="M480.20 88.15H484.60M878.40 88.15H882.80" stroke="#333" stroke-width="1"/>
<path d="M482.30 62.23H484.60M878.40 62.23H880.70" stroke="#444" stroke-width="0.9"/>
<path d="M480.20 36.30H484.60M878.40 36.30H882.80" stroke="#333" stroke-width="1"/>
<path d="M484.60 347.40V359.60" stroke="#333" stroke-width="1.2"/>
<path d="M504.29 347.40V359.60" stroke="#333" stroke-width="1.2"/>
<path d="M523.98 347.40V359.60" stroke="#333" stroke-width="1.2"/>
<path d="M543.67 347.40V359.60" stroke="#333" stroke-width="1.2"/>
<path d="M563.36 347.40V359.60" stroke="#333" stroke-width="1.2"/>
<path d="M583.05 347.40V359.60" stroke="#333" stroke-width="1.2"/>
<path d="M602.74 347.40V359.60" stroke="#333" stroke-width="1.2"/>
<path d="M622.43 347.40V359.60" stroke="#333" stroke-width="1.2"/>
<path d="M642.12 347.40V359.60" stroke="#333" stroke-width="1.2"/>
<path d="M661.81 347.40V359.60" stroke="#333" stroke-width="1.2"/>
<path d="M681.50 347.40V359.60" stroke="#333" stroke-width="1.2"/>
<path d="M701.19 347.40V359.60" stroke="#333" stroke-width="1.2"/>
<path d="M720.88 347.40V359.60" stroke="#333" stroke-width="1.2"/>
<path d="M740.57 347.40V359.60" stroke="#333" stroke-width="1.2"/>
<path d="M760.26 347.40V359.60" stroke="#333" stroke-width="1.2"/>
<path d="M779.95 347.40V359.60" stroke="#333" stroke-width="1.2"/>
<path d="M799.64 347.40V359.60" stroke="#333" stroke-width="1.2"/>
<path d="M819.33 347.40V359.60" stroke="#333" stroke-width="1.2"/>
<path d="M839.02 347.40V359.60" stroke="#333" stroke-width="1.2"/>
<path d="M858.71 347.40V359.60" stroke="#333" stroke-width="1.2"/>
<path d="M878.40 347.40V359.60" stroke="#333" stroke-width="1.2"/>
<text x="474.70" y="353.00" font-family='"Liberation Serif", "Times New Roman", Times, serif' font-size="14.5" font-weight="normal" font-style="normal" fill="#000" stroke="#000" stroke-width="0.2" textLength="3.40" lengthAdjust="spacingAndGlyphs" >0</text>
<text x="884.80" y="353.00" font-family='"Liberation Serif", "Times New Roman", Times, serif' font-size="14.5" font-weight="normal" font-style="normal" fill="#000" stroke="#000" stroke-width="0.2" textLength="3.40" lengthAdjust="spacingAndGlyphs" >0</text>
<text x="468.50" y="301.15" font-family='"Liberation Serif", "Times New Roman", Times, serif' font-size="14.5" font-weight="normal" font-style="normal" fill="#000" stroke="#000" stroke-width="0.2" textLength="9.60" lengthAdjust="spacingAndGlyphs" >200</text>
<text x="884.80" y="301.15" font-family='"Liberation Serif", "Times New Roman", Times, serif' font-size="14.5" font-weight="normal" font-style="normal" fill="#000" stroke="#000" stroke-width="0.2" textLength="9.60" lengthAdjust="spacingAndGlyphs" >200</text>
<text x="468.50" y="249.30" font-family='"Liberation Serif", "Times New Roman", Times, serif' font-size="14.5" font-weight="normal" font-style="normal" fill="#000" stroke="#000" stroke-width="0.2" textLength="9.60" lengthAdjust="spacingAndGlyphs" >400</text>
<text x="884.80" y="249.30" font-family='"Liberation Serif", "Times New Roman", Times, serif' font-size="14.5" font-weight="normal" font-style="normal" fill="#000" stroke="#000" stroke-width="0.2" textLength="9.60" lengthAdjust="spacingAndGlyphs" >400</text>
<text x="468.50" y="197.45" font-family='"Liberation Serif", "Times New Roman", Times, serif' font-size="14.5" font-weight="normal" font-style="normal" fill="#000" stroke="#000" stroke-width="0.2" textLength="9.60" lengthAdjust="spacingAndGlyphs" >600</text>
<text x="884.80" y="197.45" font-family='"Liberation Serif", "Times New Roman", Times, serif' font-size="14.5" font-weight="normal" font-style="normal" fill="#000" stroke="#000" stroke-width="0.2" textLength="9.60" lengthAdjust="spacingAndGlyphs" >600</text>
<text x="468.50" y="145.60" font-family='"Liberation Serif", "Times New Roman", Times, serif' font-size="14.5" font-weight="normal" font-style="normal" fill="#000" stroke="#000" stroke-width="0.2" textLength="9.60" lengthAdjust="spacingAndGlyphs" >800</text>
<text x="884.80" y="145.60" font-family='"Liberation Serif", "Times New Roman", Times, serif' font-size="14.5" font-weight="normal" font-style="normal" fill="#000" stroke="#000" stroke-width="0.2" textLength="9.60" lengthAdjust="spacingAndGlyphs" >800</text>
<text x="465.90" y="93.75" font-family='"Liberation Serif", "Times New Roman", Times, serif' font-size="14.5" font-weight="normal" font-style="normal" fill="#000" stroke="#000" stroke-width="0.2" textLength="12.20" lengthAdjust="spacingAndGlyphs" >1000</text>
<text x="884.80" y="93.75" font-family='"Liberation Serif", "Times New Roman", Times, serif' font-size="14.5" font-weight="normal" font-style="normal" fill="#000" stroke="#000" stroke-width="0.2" textLength="12.20" lengthAdjust="spacingAndGlyphs" >1000</text>
<text x="465.90" y="41.90" font-family='"Liberation Serif", "Times New Roman", Times, serif' font-size="14.5" font-weight="normal" font-style="normal" fill="#000" stroke="#000" stroke-width="0.2" textLength="12.20" lengthAdjust="spacingAndGlyphs" >1200</text>
<text x="884.80" y="41.90" font-family='"Liberation Serif", "Times New Roman", Times, serif' font-size="14.5" font-weight="normal" font-style="normal" fill="#000" stroke="#000" stroke-width="0.2" textLength="12.20" lengthAdjust="spacingAndGlyphs" >1200</text>
<text x="487.80" y="365.90" font-family='"Liberation Serif", "Times New Roman", Times, serif' font-size="14.6" font-weight="normal" font-style="normal" fill="#000" stroke="#000" stroke-width="0.2" textLength="13.30" lengthAdjust="spacingAndGlyphs" >1999</text>
<text x="507.49" y="365.90" font-family='"Liberation Serif", "Times New Roman", Times, serif' font-size="14.6" font-weight="normal" font-style="normal" fill="#000" stroke="#000" stroke-width="0.2" textLength="13.30" lengthAdjust="spacingAndGlyphs" >2000</text>
<text x="527.18" y="365.90" font-family='"Liberation Serif", "Times New Roman", Times, serif' font-size="14.6" font-weight="normal" font-style="normal" fill="#000" stroke="#000" stroke-width="0.2" textLength="13.30" lengthAdjust="spacingAndGlyphs" >2001</text>
<text x="546.87" y="365.90" font-family='"Liberation Serif", "Times New Roman", Times, serif' font-size="14.6" font-weight="normal" font-style="normal" fill="#000" stroke="#000" stroke-width="0.2" textLength="13.30" lengthAdjust="spacingAndGlyphs" >2002</text>
<text x="566.56" y="365.90" font-family='"Liberation Serif", "Times New Roman", Times, serif' font-size="14.6" font-weight="normal" font-style="normal" fill="#000" stroke="#000" stroke-width="0.2" textLength="13.30" lengthAdjust="spacingAndGlyphs" >2003</text>
<text x="586.25" y="365.90" font-family='"Liberation Serif", "Times New Roman", Times, serif' font-size="14.6" font-weight="normal" font-style="normal" fill="#000" stroke="#000" stroke-width="0.2" textLength="13.30" lengthAdjust="spacingAndGlyphs" >2004</text>
<text x="605.94" y="365.90" font-family='"Liberation Serif", "Times New Roman", Times, serif' font-size="14.6" font-weight="normal" font-style="normal" fill="#000" stroke="#000" stroke-width="0.2" textLength="13.30" lengthAdjust="spacingAndGlyphs" >2005</text>
<text x="625.63" y="365.90" font-family='"Liberation Serif", "Times New Roman", Times, serif' font-size="14.6" font-weight="normal" font-style="normal" fill="#000" stroke="#000" stroke-width="0.2" textLength="13.30" lengthAdjust="spacingAndGlyphs" >2006</text>
<text x="645.32" y="365.90" font-family='"Liberation Serif", "Times New Roman", Times, serif' font-size="14.6" font-weight="normal" font-style="normal" fill="#000" stroke="#000" stroke-width="0.2" textLength="13.30" lengthAdjust="spacingAndGlyphs" >2007</text>
<text x="665.01" y="365.90" font-family='"Liberation Serif", "Times New Roman", Times, serif' font-size="14.6" font-weight="normal" font-style="normal" fill="#000" stroke="#000" stroke-width="0.2" textLength="13.30" lengthAdjust="spacingAndGlyphs" >2008</text>
<text x="684.70" y="365.90" font-family='"Liberation Serif", "Times New Roman", Times, serif' font-size="14.6" font-weight="normal" font-style="normal" fill="#000" stroke="#000" stroke-width="0.2" textLength="13.30" lengthAdjust="spacingAndGlyphs" >2009</text>
<text x="704.39" y="365.90" font-family='"Liberation Serif", "Times New Roman", Times, serif' font-size="14.6" font-weight="normal" font-style="normal" fill="#000" stroke="#000" stroke-width="0.2" textLength="13.30" lengthAdjust="spacingAndGlyphs" >2010</text>
<text x="724.08" y="365.90" font-family='"Liberation Serif", "Times New Roman", Times, serif' font-size="14.6" font-weight="normal" font-style="normal" fill="#000" stroke="#000" stroke-width="0.2" textLength="13.30" lengthAdjust="spacingAndGlyphs" >2011</text>
<text x="743.77" y="365.90" font-family='"Liberation Serif", "Times New Roman", Times, serif' font-size="14.6" font-weight="normal" font-style="normal" fill="#000" stroke="#000" stroke-width="0.2" textLength="13.30" lengthAdjust="spacingAndGlyphs" >2012</text>
<text x="763.46" y="365.90" font-family='"Liberation Serif", "Times New Roman", Times, serif' font-size="14.6" font-weight="normal" font-style="normal" fill="#000" stroke="#000" stroke-width="0.2" textLength="13.30" lengthAdjust="spacingAndGlyphs" >2013</text>
<text x="783.15" y="365.90" font-family='"Liberation Serif", "Times New Roman", Times, serif' font-size="14.6" font-weight="normal" font-style="normal" fill="#000" stroke="#000" stroke-width="0.2" textLength="13.30" lengthAdjust="spacingAndGlyphs" >2014</text>
<text x="802.84" y="365.90" font-family='"Liberation Serif", "Times New Roman", Times, serif' font-size="14.6" font-weight="normal" font-style="normal" fill="#000" stroke="#000" stroke-width="0.2" textLength="13.30" lengthAdjust="spacingAndGlyphs" >2015</text>
<text x="822.53" y="365.90" font-family='"Liberation Serif", "Times New Roman", Times, serif' font-size="14.6" font-weight="normal" font-style="normal" fill="#000" stroke="#000" stroke-width="0.2" textLength="13.30" lengthAdjust="spacingAndGlyphs" >2016</text>
<text x="842.22" y="365.90" font-family='"Liberation Serif", "Times New Roman", Times, serif' font-size="14.6" font-weight="normal" font-style="normal" fill="#000" stroke="#000" stroke-width="0.2" textLength="13.30" lengthAdjust="spacingAndGlyphs" >2017</text>
<text x="861.91" y="365.90" font-family='"Liberation Serif", "Times New Roman", Times, serif' font-size="14.6" font-weight="normal" font-style="normal" fill="#000" stroke="#000" stroke-width="0.2" textLength="13.30" lengthAdjust="spacingAndGlyphs" >2018</text>
<text x="485.20" y="25.30" font-family='"Liberation Sans", Arial, Helvetica, sans-serif' font-size="16.2" font-weight="bold" font-style="normal" fill="#000" stroke="#000" stroke-width="0.6" textLength="33.00" lengthAdjust="spacingAndGlyphs" >Figure 7.</text>
<text x="489.10" y="54.80" font-family='"Liberation Sans", Arial, Helvetica, sans-serif' font-size="15.8" font-weight="bold" font-style="normal" fill="#000" stroke="#000" stroke-width="0.55" textLength="134.40" lengthAdjust="spacingAndGlyphs" >S&amp;P 500 BUYBACKS &amp; DIVIDENDS</text>
<text x="489.10" y="73.30" font-family='"Liberation Sans", Arial, Helvetica, sans-serif' font-size="15" font-weight="normal" font-style="normal" fill="#000" stroke="#000" stroke-width="0.45" textLength="85.80" lengthAdjust="spacingAndGlyphs" >(billion dollars, annualized)</text>
<text x="524.10" y="166.10" font-family='"Liberation Sans", Arial, Helvetica, sans-serif' font-size="15" font-weight="normal" font-style="normal" fill="#000" stroke="#000" stroke-width="0.45" textLength="35.00" lengthAdjust="spacingAndGlyphs" >Total (907)</text>
<text x="850.80" y="120.30" font-family='"Liberation Sans", Arial, Helvetica, sans-serif' font-size="13.8" font-weight="normal" font-style="normal" fill="#2a3cff" stroke="#2a3cff" stroke-width="0.35" textLength="8.20" lengthAdjust="spacingAndGlyphs" >Q2</text>
<g transform="translate(827.3,112.2) scale(0.76,1)"><ellipse cx="0" cy="0" rx="62.76" ry="49.6" fill="none" stroke="#10163a" stroke-width="2.9"/></g>
<text y="426.1" font-family='"Liberation Sans", Arial, Helvetica, sans-serif' font-size="16" font-weight="bold" font-style="italic" fill="#6d788c"><tspan x="282.5" textLength="270.3" lengthAdjust="spacingAndGlyphs">Source: Yardeni Research (October</tspan> <tspan x="558.8" textLength="57.6" lengthAdjust="spacingAndGlyphs">6, 2017)</tspan></text>
</svg>
</body></html>
